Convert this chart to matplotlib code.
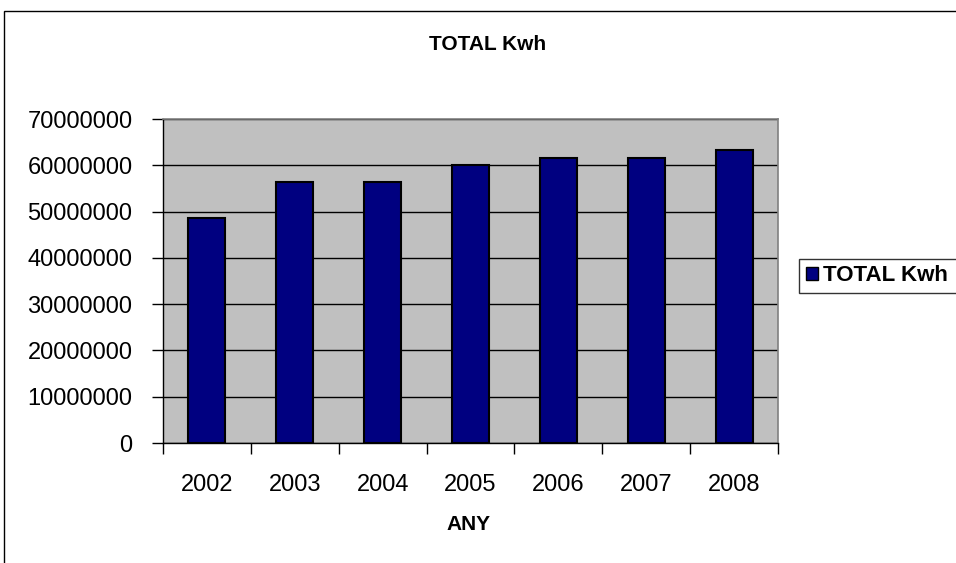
import matplotlib.pyplot as plt
from matplotlib.patches import Rectangle, Patch

plt.rcParams['font.family'] = ['Liberation Sans', 'DejaVu Sans']

# Data
years = ['2002', '2003', '2004', '2005', '2006', '2007', '2008']
total_kwh = [48700000, 56400000, 56400000, 60000000, 61600000, 61600000, 63400000]
y_ticks = [0, 10000000, 20000000, 30000000, 40000000, 50000000, 60000000, 70000000]

fig = plt.figure(figsize=(9.56, 5.63), dpi=100)
ax = fig.add_axes([163 / 956, 1 - 443 / 563, 615 / 956, 324 / 563])
ax.set_facecolor('#C0C0C0')

x = list(range(len(years)))
bars = ax.bar(x, total_kwh, width=0.42, color='#000080', edgecolor='black',
              linewidth=1.5, zorder=3, label='TOTAL Kwh')

ax.set_xlim(-0.5, len(years) - 0.5)
ax.set_ylim(0, 70000000)
ax.set_yticks(y_ticks)
ax.set_yticklabels([str(v) for v in y_ticks])

# category labels centred, ticks sit between categories
ax.set_xticks(x)
ax.set_xticklabels(years)
ax.tick_params(axis='x', which='major', length=0, pad=22, labelsize=17)
ax.set_xticks([i - 0.5 for i in range(len(years) + 1)], minor=True)
ax.tick_params(axis='x', which='minor', length=8, width=1, direction='out', color='black')
ax.tick_params(axis='y', length=8, width=1, direction='out', pad=14, labelsize=17)

ax.yaxis.grid(True, color='black', linewidth=1, zorder=1)
ax.set_axisbelow(True)

for side in ['top', 'right']:
    ax.spines[side].set_color('#808080')
    ax.spines[side].set_linewidth(1.2)
for side in ['left', 'bottom']:
    ax.spines[side].set_color('black')
    ax.spines[side].set_linewidth(1)

fig.text(488 / 956, 1 - 44 / 563, 'TOTAL Kwh', ha='center', va='center',
         fontsize=15, fontweight='bold')
fig.text(469 / 956, 1 - 525 / 563, 'ANY', ha='center', va='center',
         fontsize=15, fontweight='bold')

# legend box on the right, cut off by the image edge
handle = Patch(facecolor='#000080', edgecolor='black', linewidth=1)
leg = fig.legend(handles=[handle], labels=['TOTAL Kwh  '], loc='lower left',
                 bbox_to_anchor=(799 / 956, 1 - 293 / 563), frameon=True,
                 fancybox=False, edgecolor='black',
                 prop={'weight': 'bold', 'size': 16},
                 handlelength=0.55, handleheight=0.55, handletextpad=0.25,
                 borderpad=0.3, borderaxespad=0)
leg.get_frame().set_linewidth(1)

# outer chart border (top and left edges visible)
fig.add_artist(Rectangle((4 / 956, -0.1), 2, 1 - 11 / 563 + 0.1,
                         transform=fig.transFigure, fill=False,
                         edgecolor='black', linewidth=1))

fig.savefig('out.png', dpi=100)
